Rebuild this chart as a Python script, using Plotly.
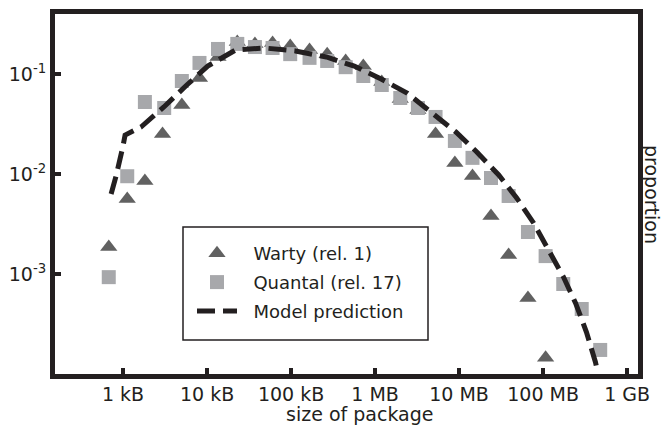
import plotly.graph_objects as go

# package size (bytes) and proportion
quantal_size = [676, 1122, 1820, 3090, 5012, 8128, 13490, 22909, 37154, 60256,
                97724, 165959, 269153, 446684, 724436, 1.202e6, 1.995e6, 3.236e6,
                5.248e6, 8.913e6, 1.445e7, 2.399e7, 3.890e7, 6.607e7, 1.072e8,
                1.738e8, 2.884e8, 4.786e8]
quantal_prop = [0.00093, 0.0095, 0.0525, 0.0457, 0.0851, 0.129, 0.178, 0.200,
                0.186, 0.182, 0.158, 0.145, 0.135, 0.117, 0.0955, 0.0776, 0.0575,
                0.0457, 0.0372, 0.0214, 0.0145, 0.00912, 0.00603, 0.00263,
                0.00151, 0.000794, 0.000447, 0.000174]

warty_size = [676, 1122, 1820, 2951, 5012, 8128, 13490, 22909, 37154, 60256,
              97724, 165959, 269153, 446684, 724436, 1.202e6, 1.995e6, 3.236e6,
              5.248e6, 8.913e6, 1.445e7, 2.399e7, 3.890e7, 6.607e7, 1.072e8]
warty_prop = [0.00186, 0.00562, 0.00851, 0.0251, 0.0490, 0.0912, 0.148, 0.209,
              0.200, 0.204, 0.191, 0.174, 0.158, 0.135, 0.120, 0.0832, 0.0562,
              0.0437, 0.0251, 0.0129, 0.00955, 0.00380, 0.00155, 0.000575,
              0.000145]

model_size = [721, 826, 1000, 1057, 1637, 3062, 5741, 10186, 21878, 48306,
              112720, 263027, 564937, 1.180e6, 2.404e6, 4.624e6, 9.162e6,
              1.626e7, 2.965e7, 4.853e7, 7.709e7, 1.161e8, 1.750e8, 2.432e8,
              3.281e8, 4.198e8, 4.467e8]
model_prop = [0.00631, 0.00955, 0.0191, 0.0245, 0.0295, 0.0468, 0.0776, 0.120,
              0.174, 0.182, 0.170, 0.148, 0.120, 0.0891, 0.0646, 0.0417, 0.0263,
              0.0166, 0.00977, 0.00575, 0.00324, 0.00174, 0.000933, 0.000513,
              0.000263, 0.000132, 0.000105]

series_names = ["Warty (rel. 1)", "Quantal (rel. 17)", "Model prediction"]

x_tickvals = [1e3, 1e4, 1e5, 1e6, 1e7, 1e8, 1e9]
x_ticktext = ["1 kB", "10 kB", "100 kB", "1 MB", "10 MB", "100 MB", "1 GB"]
y_tickvals = [1e-3, 1e-2, 1e-1]
y_ticktext = ["10<sup>-3</sup>", "10<sup>-2</sup>", "10<sup>-1</sup>"]

INK = "#231f20"
FONT = "DejaVu Sans"
PAD = "\u00a0\u00a0"

fig = go.Figure()
fig.add_trace(go.Scatter(
    x=warty_size, y=warty_prop, mode="markers", name=PAD + series_names[0],
    legendgroup="a",
    marker=dict(symbol="triangle-up", size=15, color="#616161", line=dict(width=0))))
fig.add_trace(go.Scatter(
    x=quantal_size, y=quantal_prop, mode="markers", name=PAD + series_names[1],
    legendgroup="b",
    marker=dict(symbol="square", size=14, color="#a7a8ab", line=dict(width=0))))
fig.add_trace(go.Scatter(
    x=model_size, y=model_prop, mode="lines", name=PAD + series_names[2],
    legendgroup="c",
    line=dict(color=INK, width=5, dash="18px,8px")))

axis_common = dict(
    type="log", showgrid=False, zeroline=False, automargin=False,
    showline=True, linecolor=INK, linewidth=5, mirror=True,
    ticks="inside", ticklen=6, tickwidth=4, tickcolor=INK,
    tickfont=dict(family=FONT, size=19, color=INK),
)

fig.update_layout(
    width=666, height=426,
    margin=dict(l=55, r=28, t=14, b=52),
    paper_bgcolor="white", plot_bgcolor="white",
    font=dict(family=FONT, size=18, color=INK),
    xaxis=dict(axis_common, range=[2.19, 9.13], tickvals=x_tickvals,
               ticktext=x_ticktext, ticklabelstandoff=-1),
    yaxis=dict(axis_common, range=[-4.0, -0.4], tickvals=y_tickvals,
               ticktext=y_ticktext),
    legend=dict(x=(192 - 55) / 583, y=(374 - 235) / 360, xanchor="left", yanchor="top",
                borderwidth=0, bgcolor="rgba(0,0,0,0)",
                font=dict(family=FONT, size=18, color=INK),
                traceorder="grouped", tracegroupgap=2.5, itemwidth=40),
    showlegend=True,
    shapes=[dict(type="rect", xref="paper", yref="paper",
                 x0=(183 - 55) / 583, x1=(428 - 55) / 583,
                 y0=(374 - 340) / 360, y1=(374 - 227) / 360,
                 line=dict(color=INK, width=1.5), fillcolor="white", layer="above")],
    annotations=[
        dict(text="proportion", xref="paper", yref="paper",
             x=1.0, y=0.5, xanchor="center", yanchor="middle", xshift=14,
             showarrow=False, textangle=90,
             font=dict(family=FONT, size=19, color=INK)),
        dict(text="size of package", xref="paper", yref="paper",
             x=0.5, y=0, xanchor="center", yanchor="bottom", xshift=12.5, yshift=-52,
             showarrow=False, borderpad=0,
             font=dict(family=FONT, size=19, color=INK)),
    ],
)

fig.write_html("out.html", config={"displayModeBar": False},
               post_script="document.body.style.margin='0';document.body.style.padding='0';")
